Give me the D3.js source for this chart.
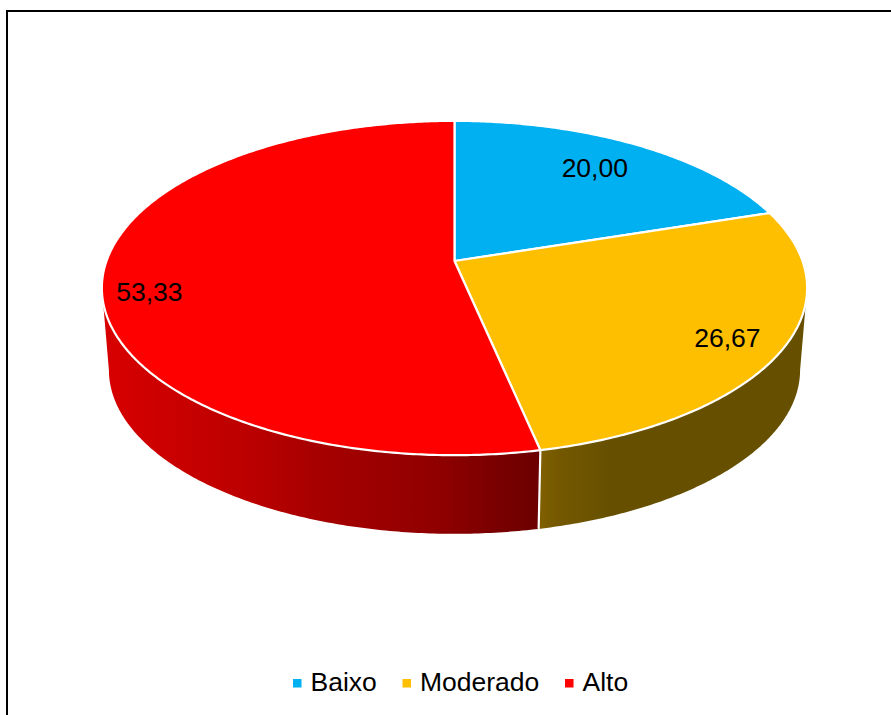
<!DOCTYPE html>
<html>
<head>
<meta charset="utf-8">
<style>
  html, body { margin: 0; padding: 0; background: #fff; overflow: hidden; }
  svg { display: block; }
  text { font-family: "Liberation Sans", Arial, sans-serif; fill: #000; }
</style>
<script src="https://cdn.jsdelivr.net/npm/d3@7/dist/d3.min.js"></script>
</head>
<body>
<svg id="chart" width="891" height="715"></svg>
<script>
// Risk level shares (%)
const categories = ["Baixo", "Moderado", "Alto"];
const shares = [20.00, 26.67, 53.33];
const faceColors = ["#00b0f0", "#fdbf00", "#ff0000"];

// Shading across the side wall, left to right
const wallStops = {
  Moderado: [[538, "#806000"], [560, "#745800"], [610, "#665000"], [810, "#665000"]],
  Alto: [[100, "#d80000"], [250, "#bb0000"], [310, "#a80000"], [440, "#8f0000"], [500, "#780000"], [540, "#6c0000"]]
};

// Label placement along each slice: share of the radius, angular shift in degrees
const labelRadius = [0.775, 0.85, 0.87];
const labelShift = [-1, 1, -6];

const W = 891, H = 715;
const svg = d3.select("#chart");
const comma = d3.formatLocale({ decimal: ",", thousands: ".", grouping: [3], currency: ["", ""] }).format(".2f");
const color = d3.scaleOrdinal(categories, faceColors);

// Perspective view of the disc: the hub sits above the middle of the ellipse
const cx = 454.5, hubY = 261, floorHubY = 343.5;
const rx = 348, ry = 162.8, tilt = -0.1617, floorScale = 0.98;

function project(theta, r = 1, originY = hubY, scale = 1) {
  const u = r * Math.sin(theta), v = -r * Math.cos(theta);
  const w = 1 + tilt * v;
  return [cx + scale * rx * u / w, originY + scale * ry * v / w];
}
const rim = t => project(t);
const floorRim = t => project(t, 1, floorHubY, floorScale);

const sweep = (a, b) => {
  const n = Math.max(2, Math.ceil(Math.abs(b - a) / 0.01));
  return d3.range(n + 1).map(i => a + (b - a) * i / n);
};
const line = d3.line();

const arcs = d3.pie().sort(null).value(d => d)(shares)
  .map((d, i) => ({ ...d, name: categories[i] }));

// Frame, open past the right and bottom of the page
svg.append("path")
  .attr("d", `M${W + 5},11H7V${H + 5}`)
  .attr("fill", "none").attr("stroke", "#000").attr("stroke-width", 2);

// Wall gradients
const defs = svg.append("defs");
Object.entries(wallStops).forEach(([name, stops]) => {
  const x0 = stops[0][0], x1 = stops[stops.length - 1][0];
  const g = defs.append("linearGradient")
    .attr("id", "wall-" + name)
    .attr("gradientUnits", "userSpaceOnUse")
    .attr("x1", x0).attr("x2", x1).attr("y1", 0).attr("y2", 0);
  stops.forEach(([x, c]) => g.append("stop").attr("offset", (x - x0) / (x1 - x0)).attr("stop-color", c));
});

// Only the front of the wall shows, between the two silhouette angles
const silhouette = Math.acos(tilt);
const front = arcs
  .filter(d => wallStops[d.name])
  .map(d => ({
    ...d,
    from: Math.max(d.startAngle, silhouette),
    to: Math.min(d.endAngle, 2 * Math.PI - silhouette)
  }));

svg.append("g").selectAll("path").data(front).join("path")
  .attr("d", d => {
    const ts = sweep(d.from, d.to);
    return line([...ts.map(rim), ...ts.slice().reverse().map(floorRim)]) + "Z";
  })
  .attr("fill", d => `url(#wall-${d.name})`);

// White seam between the wall sections
svg.append("path")
  .attr("d", line([rim(arcs[1].endAngle), floorRim(arcs[1].endAngle)]))
  .attr("stroke", "#fff").attr("stroke-width", 2.2).attr("fill", "none");

// Top face
svg.append("g").selectAll("path").data(arcs).join("path")
  .attr("d", d => line([[cx, hubY], ...sweep(d.startAngle, d.endAngle).map(rim)]) + "Z")
  .attr("fill", d => color(d.name))
  .attr("stroke", "#fff").attr("stroke-width", 2.2).attr("stroke-linejoin", "round");

// Value labels
svg.append("g").selectAll("text").data(arcs).join("text")
  .attr("transform", (d, i) => {
    const mid = (d.startAngle + d.endAngle) / 2 + labelShift[i] * Math.PI / 180;
    return `translate(${project(mid, labelRadius[i])})`;
  })
  .attr("text-anchor", "middle").attr("dy", "0.36em")
  .attr("font-size", 26.5)
  .text(d => comma(d.value));

// Legend: swatch and name laid out in a row from the measured text widths
const legend = svg.append("g");
let legendX = 293;
const legendBaseline = 691, swatch = 8.5, swatchGap = 9, entryGap = 25.7;
categories.forEach(name => {
  legend.append("rect")
    .attr("x", legendX).attr("y", legendBaseline - 12).attr("width", swatch).attr("height", swatch)
    .attr("fill", color(name));
  const label = legend.append("text")
    .attr("x", legendX + swatch + swatchGap).attr("y", legendBaseline)
    .attr("font-size", 26.5).text(name);
  legendX += swatch + swatchGap + label.node().getComputedTextLength() + entryGap;
});
</script>
</body>
</html>
